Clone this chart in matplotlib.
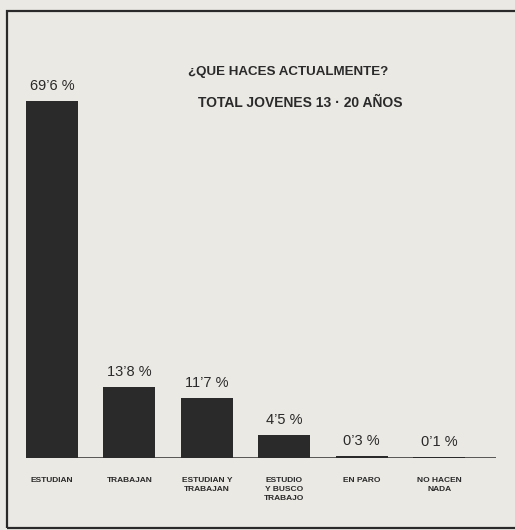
import matplotlib.pyplot as plt
from matplotlib.patches import Rectangle

plt.rcParams['font.family'] = ['Liberation Sans', 'DejaVu Sans']

categories = ["ESTUDIAN", "TRABAJAN", "ESTUDIAN Y\nTRABAJAN", "ESTUDIO\nY BUSCO\nTRABAJO",
              "EN PARO", "NO HACEN\nNADA"]
values = [69.6, 13.8, 11.7, 4.5, 0.3, 0.1]
value_labels = ["69’6 %", "13’8 %", "11’7 %", "4’5 %", "0’3 %", "0’1 %"]

W, H = 515, 530
paper = "#ebe9e4"
ink = "#2a2a2a"

fig = plt.figure(figsize=(W / 100, H / 100), dpi=100, facecolor=paper)

# frame of the printed box
fig.patches.append(Rectangle((7 / W, 2 / H), (W - 5) / W, (H - 13) / H,
                             transform=fig.transFigure, fill=False,
                             edgecolor=ink, lw=1.6))

ax = fig.add_axes([26 / W, 72 / H, 470 / W, 357 / H])
ax.set_facecolor(paper)
x = list(range(len(values)))
ax.bar(x, values, width=0.67, color=ink, zorder=2)
ax.axhline(0, color=ink, lw=1.8, zorder=3)
ax.set_xlim(-0.335, 5.735)
ax.set_ylim(0, 69.6)
for s in ax.spines.values():
    s.set_visible(False)
ax.set_xticks([])
ax.set_yticks([])

for xi, v, lab in zip(x, values, value_labels):
    ax.annotate(lab, (xi, v), xytext=(0, 6), textcoords="offset points",
                ha="center", va="bottom", fontsize=10.5, color=ink,
                annotation_clip=False)

for xi, cat in zip(x, categories):
    ax.annotate(cat, (xi, 0), xytext=(0, -14), textcoords="offset points",
                ha="center", va="top", fontsize=6, fontweight="bold",
                color=ink, linespacing=1.35, annotation_clip=False)

fig.text(288 / W, 1 - 72 / H, "¿QUE HACES ACTUALMENTE?", ha="center", va="center",
         fontsize=9.6, fontweight="bold", color=ink)
fig.text(300 / W, 1 - 103 / H, "TOTAL JOVENES 13 · 20 AÑOS", ha="center", va="center",
         fontsize=10, fontweight="bold", color=ink)

fig.savefig("out.png", dpi=100, facecolor=paper)
